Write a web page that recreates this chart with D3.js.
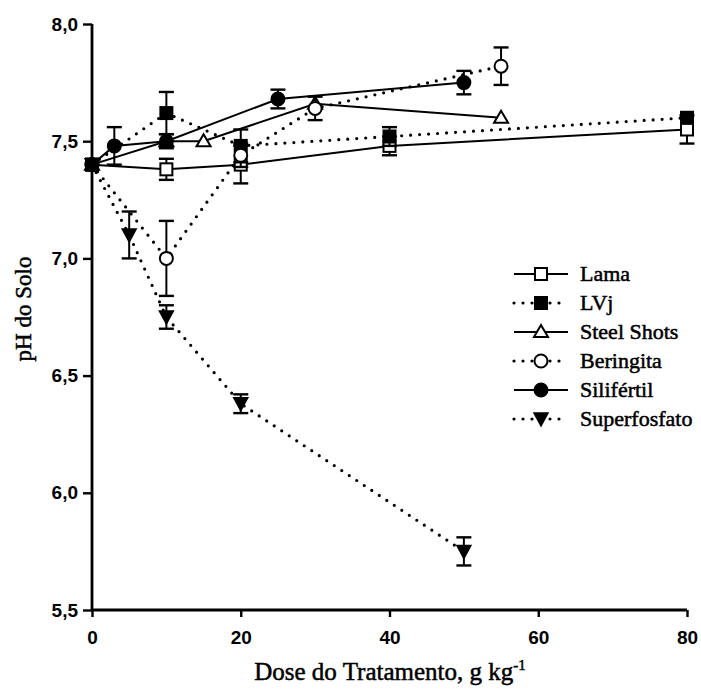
<!DOCTYPE html>
<html>
<head>
<meta charset="utf-8">
<script src="https://cdn.jsdelivr.net/npm/d3@7"></script>
<style>
  body { margin: 0; background: #fff; }
</style>
</head>
<body>
<div id="chart"></div>
<script>
// pH do solo em função da dose de cada tratamento
const seriesNames = ["Lama", "LVj", "Steel Shots", "Beringita", "Silifértil", "Superfosfato"];

// [dose, pH, erro]
const lama = [[0, 7.40, 0], [10, 7.38, 0.045], [20, 7.40, 0.08], [40, 7.48, 0.04], [80, 7.55, 0.06]];
const lvj = [[0, 7.40, 0], [10, 7.62, 0.09], [20, 7.48, 0.07], [40, 7.52, 0.04], [80, 7.60, 0]];
const steelShots = [[0, 7.40, 0], [10, 7.50, 0], [15, 7.50, 0], [30, 7.66, 0], [55, 7.60, 0]];
const beringita = [[0, 7.40, 0], [10, 7.00, 0.16], [20, 7.44, 0.05], [30, 7.64, 0.05], [55, 7.82, 0.08]];
const silifertil = [[0, 7.40, 0], [3, 7.48, 0.08], [10, 7.50, 0.03], [25, 7.68, 0.04], [50, 7.75, 0.05]];
const superfosfato = [[0, 7.40, 0], [5, 7.10, 0.10], [10, 6.75, 0.05], [20, 6.38, 0.04], [50, 5.75, 0.06]];

const xTicks = [0, 20, 40, 60, 80];
const yTicks = [5.5, 6.0, 6.5, 7.0, 7.5, 8.0];

const width = 701, height = 691;
const serif = "'Times New Roman', 'Liberation Serif', serif";
const sans = "'Liberation Sans', Arial, sans-serif";

// estilo de cada série: linha, marcador, preenchimento
const seriesData = [lama, lvj, steelShots, beringita, silifertil, superfosfato];
const dotted = [false, true, false, true, false, true];
const markers = ["square", "square", "triangle", "circle", "circle", "triangleDown"];
const filled = [false, true, false, false, true, true];

const svg = d3.select("#chart").append("svg")
  .attr("width", width)
  .attr("height", height)
  .style("background", "#fff");

const x = d3.scaleLinear().domain([0, 80]).range([92, 687]);
const y = d3.scaleLinear().domain([5.5, 8.0]).range([610, 24]);

// eixos
const fmt = v => d3.format(".1f")(v).replace(".", ",");

const yAxis = svg.append("g")
  .attr("transform", `translate(${x(0)},0)`)
  .call(d3.axisLeft(y).tickValues(yTicks).tickSize(9).tickPadding(5).tickFormat(fmt));

const xAxis = svg.append("g")
  .attr("transform", `translate(0,${y(5.5)})`)
  .call(d3.axisBottom(x).tickValues(xTicks).tickSize(7).tickPadding(14).tickFormat(d => d));

[xAxis, yAxis].forEach(a => {
  a.select(".domain").attr("stroke", "#000").attr("stroke-width", 2.8);
  a.selectAll(".tick line").attr("stroke", "#000").attr("stroke-width", 2.4);
  a.selectAll(".tick text")
    .attr("fill", "#000")
    .attr("font-family", sans)
    .attr("font-weight", "bold")
    .attr("font-size", 19);
});
// o domínio sem as pontas extras
yAxis.select(".domain").attr("d", `M0,${y(8.0)}V${y(5.5) + 1}`);
xAxis.select(".domain").attr("d", `M${x(0) - 1},0H${x(80)}`);

// textos serifados um pouco mais grossos, como no original digitalizado
function serifText(sel, size) {
  return sel.attr("font-family", serif)
    .attr("font-size", size)
    .attr("fill", "#000")
    .attr("stroke", "#000")
    .attr("stroke-width", 0.5);
}

// títulos dos eixos
const xt = serifText(svg.append("text"), 25)
  .attr("x", 390)
  .attr("y", 680)
  .attr("text-anchor", "middle");
xt.append("tspan").text("Dose do Tratamento, g kg");
xt.append("tspan").attr("dy", -10).attr("font-size", 15).text("-1");

serifText(svg.append("text"), 23)
  .attr("transform", `translate(31,309) rotate(-90)`)
  .attr("text-anchor", "middle")
  .text("pH do Solo");

// marcadores
function drawMarker(g, type, fill, cx, cy) {
  const f = fill ? "#000" : "#fff";
  if (type === "square") {
    g.append("rect")
      .attr("x", cx - 6).attr("y", cy - 6)
      .attr("width", 12).attr("height", 12)
      .attr("fill", f).attr("stroke", "#000").attr("stroke-width", 2);
  } else if (type === "circle") {
    g.append("circle")
      .attr("cx", cx).attr("cy", cy).attr("r", 6.5)
      .attr("fill", f).attr("stroke", "#000").attr("stroke-width", 2);
  } else if (type === "triangle") {
    g.append("path")
      .attr("d", `M${cx},${cy - 7}L${cx + 7},${cy + 5}L${cx - 7},${cy + 5}Z`)
      .attr("fill", f).attr("stroke", "#000").attr("stroke-width", 2);
  } else {
    g.append("path")
      .attr("d", `M${cx - 7},${cy - 6}L${cx + 7},${cy - 6}L${cx},${cy + 7}Z`)
      .attr("fill", f).attr("stroke", "#000").attr("stroke-width", 1.5);
  }
}

const line = d3.line().x(d => x(d[0])).y(d => y(d[1]));

function styleLine(sel, isDotted) {
  sel.attr("fill", "none").attr("stroke", "#000");
  if (isDotted) {
    sel.attr("stroke-width", 3.2).attr("stroke-linecap", "round").attr("stroke-dasharray", "0,9");
  } else {
    sel.attr("stroke-width", 2);
  }
}

const plot = svg.append("g");

seriesData.forEach((data, i) => {
  const g = plot.append("g");
  styleLine(g.append("path").datum(data).attr("d", line), dotted[i]);

  // barras de erro
  data.filter(d => d[2] > 0).forEach(d => {
    const cx = x(d[0]);
    const y1 = y(d[1] + d[2]), y2 = y(d[1] - d[2]);
    g.append("line").attr("x1", cx).attr("x2", cx).attr("y1", y1).attr("y2", y2)
      .attr("stroke", "#000").attr("stroke-width", 2);
    [y1, y2].forEach(yy => {
      g.append("line").attr("x1", cx - 7.5).attr("x2", cx + 7.5).attr("y1", yy).attr("y2", yy)
        .attr("stroke", "#000").attr("stroke-width", 2.4);
    });
  });

  data.forEach(d => drawMarker(g, markers[i], filled[i], x(d[0]), y(d[1])));
});

// legenda
const legend = svg.append("g");
seriesNames.forEach((name, i) => {
  const ly = 274 + i * 29;
  const row = legend.append("g");
  styleLine(row.append("path").attr("d", `M514,${ly}H568`), dotted[i]);
  drawMarker(row, markers[i], filled[i], 541, ly);
  serifText(row.append("text"), 22)
    .attr("x", 580)
    .attr("y", ly + 7)
    .text(name);
});
</script>
</body>
</html>
